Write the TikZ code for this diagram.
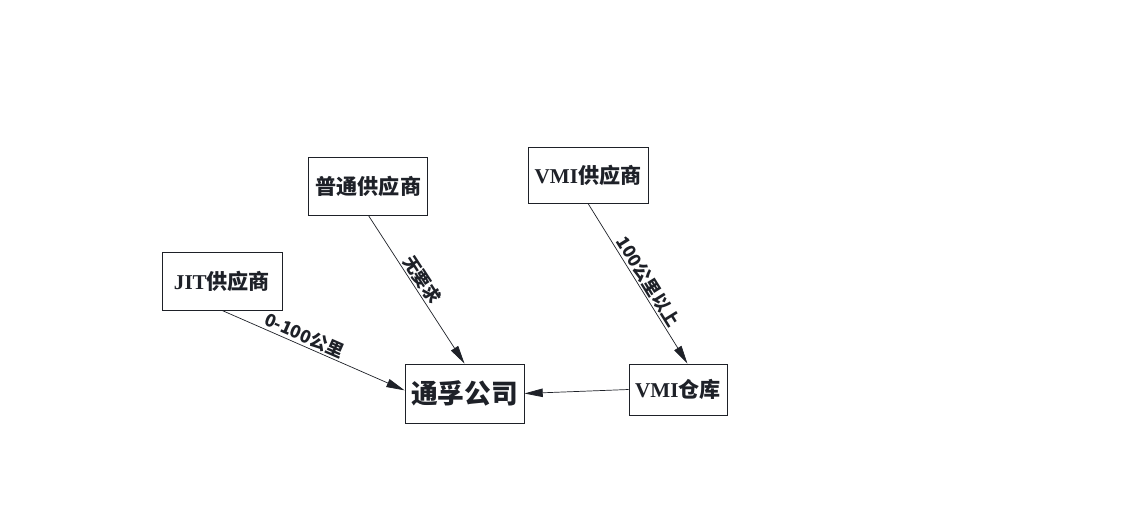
\documentclass[tikz,border=0pt]{standalone}
\usepackage{fontspec}
\setmainfont{Noto Sans CJK SC}
\newfontfamily\latinfont{Liberation Serif}
\usetikzlibrary{arrows.meta, positioning}
\definecolor{tDark}{RGB}{30, 33, 40}

\begin{document}
\begin{tikzpicture}[
    font=\bfseries,
    >={Triangle[length=13pt, width=6pt]},
    box/.style={
        draw=tDark,
        line width=0.6pt,
        text=tDark,
        align=center,
        inner sep=0pt,
        font=\bfseries\fontsize{15pt}{17pt}\selectfont
    },
    arrow/.style={->, line width=0.5pt, color=tDark},
    lbl/.style={sloped, above, inner sep=1pt, text=tDark,
        font=\bfseries\fontsize{12.5pt}{14pt}\selectfont}
]

\useasboundingbox (0,0) rectangle (28.1, 12.675);

% Suppliers
\node[box, minimum width=2.975cm, minimum height=1.45cm] (putong) at (9.21, 8.025) {普通供应商};
\node[box, minimum width=3.0cm, minimum height=1.45cm] (jit) at (5.55, 5.65) {{\latinfont JIT}供应商};
\node[box, minimum width=3.0cm, minimum height=1.4cm] (vmisup) at (14.7, 8.3) {{\latinfont VMI}供应商};

% Company and warehouse
\node[box, minimum width=2.975cm, minimum height=1.475cm,
      font=\bfseries\fontsize{19pt}{21pt}\selectfont] (tongfu) at (11.6125, 2.8375) {通孚公司};
\node[box, minimum width=2.45cm, minimum height=1.275cm] (cang) at (16.95, 2.9375) {{\latinfont VMI}仓库};

\draw[arrow] (jit.south) -- node[lbl, pos=0.43] {0-100公里} (tongfu.177);
\draw[arrow] (putong.south) -- node[lbl, pos=0.47] {无要求} (tongfu.north);
\draw[arrow] (vmisup.south) -- node[lbl, pos=0.52] {100公里以上} (cang.70);
\draw[arrow] (cang.west) -- (tongfu.east);

\end{tikzpicture}
\end{document}
